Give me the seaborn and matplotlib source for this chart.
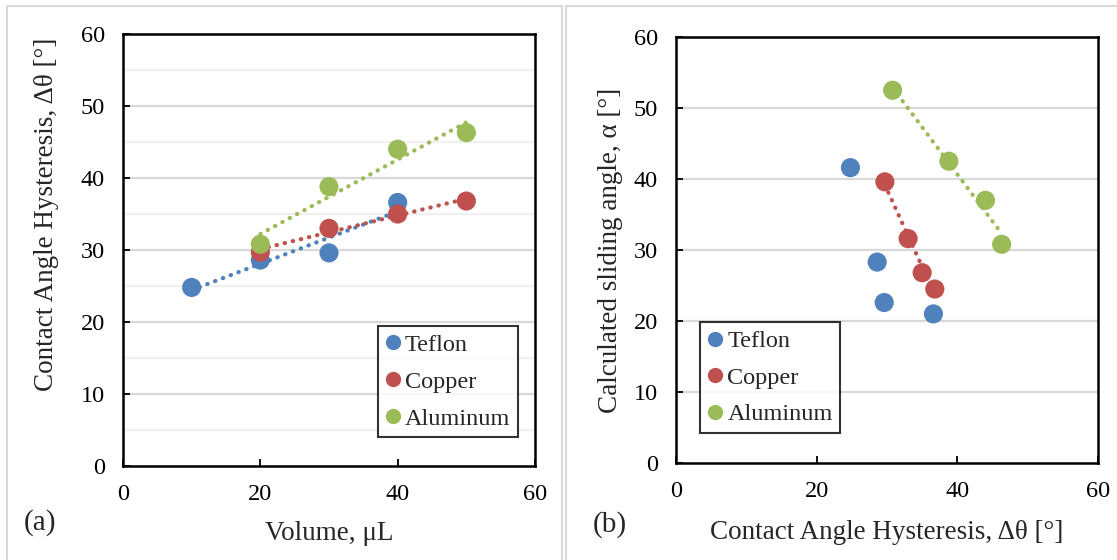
import matplotlib
matplotlib.use("Agg")
import matplotlib.pyplot as plt
from matplotlib.lines import Line2D
import seaborn as sns
import pandas as pd

# --- data ---
materials = ["Teflon", "Copper", "Aluminum"]
colors = ["#4F81BD", "#C0504D", "#9BBB59"]

# (a) hysteresis vs droplet volume
teflon_vol = [10, 20, 30, 40]
teflon_cah = [24.8, 28.6, 29.6, 36.6]
copper_vol = [20, 30, 40, 50]
copper_cah = [29.7, 33.0, 35.0, 36.8]
alu_vol = [20, 30, 40, 50]
alu_cah = [30.8, 38.8, 44.0, 46.3]

# (b) sliding angle vs hysteresis
teflon_slide = [41.6, 28.3, 22.6, 21.0]
copper_slide = [39.6, 31.6, 26.8, 24.5]
alu_slide = [52.5, 42.5, 37.0, 30.8]

df_a = pd.DataFrame({
    "volume": teflon_vol + copper_vol + alu_vol,
    "cah": teflon_cah + copper_cah + alu_cah,
    "material": ["Teflon"] * 4 + ["Copper"] * 4 + ["Aluminum"] * 4,
})
df_b = pd.DataFrame({
    "cah": teflon_cah + copper_cah + alu_cah,
    "slide": teflon_slide + copper_slide + alu_slide,
    "material": ["Teflon"] * 4 + ["Copper"] * 4 + ["Aluminum"] * 4,
})

sns.set_theme(style="white")
plt.rcParams["font.family"] = ["Liberation Serif", "DejaVu Serif"]

W, H = 1117, 560
fig = plt.figure(figsize=(W / 100, H / 100), dpi=100)
fig.patch.set_facecolor("white")


def px_axes(l, t, r, b):
    return fig.add_axes([l / W, 1 - b / H, (r - l) / W, (b - t) / H])


ax_a = px_axes(123, 34, 535, 466)
ax_b = px_axes(676, 37, 1098, 463)

palette = dict(zip(materials, colors))
dot_kws = dict(linestyle=(0, (0.1, 1.9)), linewidth=3.0, dash_capstyle="round")


def trend(ax, df, x, y, mats):
    for m in mats:
        sub = df[df["material"] == m]
        sns.regplot(data=sub, x=x, y=y, ax=ax, scatter=False, ci=None,
                    truncate=True, line_kws=dict(color=palette[m], **dot_kws))


def style(ax, xlabel, ylabel, minor_grid, ylab_xy, xlab_y):
    ax.set_xlim(0, 60)
    ax.set_ylim(0, 60)
    ax.set_xticks([0, 20, 40, 60])
    ax.set_yticks(range(0, 61, 10))
    if minor_grid:
        for v in range(5, 60, 10):
            ax.axhline(v, color="#F0F0F0", lw=1.6, zorder=0)
    for v in range(10, 60, 10):
        ax.axhline(v, color="#D9D9D9", lw=1.6, zorder=0.5)
    ax.tick_params(direction="in", length=5, width=1.3, labelsize=17.5,
                   colors="black", pad=13, bottom=True, left=True)
    for s in ax.spines.values():
        s.set_color("black")
        s.set_linewidth(1.8)
    ax.set_xlabel(xlabel, fontsize=19.5)
    ax.set_ylabel(ylabel, fontsize=19.5)
    ax.yaxis.set_label_coords(*ylab_xy)
    ax.xaxis.set_label_coords(0.5, xlab_y)
    ax.grid(False)


# ---- panel (a) ----
trend(ax_a, df_a, "volume", "cah", materials)
sns.scatterplot(data=df_a, x="volume", y="cah", hue="material", hue_order=materials,
                palette=palette, s=190, linewidth=0, ax=ax_a, zorder=3, legend=False)
style(ax_a, "Volume, \u03bcL", "Contact Angle Hysteresis, \u0394\u03b8 [\u00b0]", True,
      (-0.155, 0.583), -0.127)

# ---- panel (b) ----
trend(ax_b, df_b, "cah", "slide", ["Copper", "Aluminum"])
sns.scatterplot(data=df_b, x="cah", y="slide", hue="material", hue_order=materials,
                palette=palette, s=190, linewidth=0, ax=ax_b, zorder=3, legend=False)
style(ax_b, "Contact Angle Hysteresis, \u0394\u03b8 [\u00b0]", "Calculated sliding angle, \u03b1 [\u00b0]", False,
      (-0.125, 0.5), -0.134)

handles = [Line2D([], [], marker="o", linestyle="none", markersize=11,
                  markerfacecolor=c, markeredgewidth=0) for c in colors]
for ax, anchor, ls in [(ax_a, (0.618, 0.066), 0.62), (ax_b, (0.057, 0.07), 0.6)]:
    leg = ax.legend(handles, materials, loc="lower left", bbox_to_anchor=anchor,
                    frameon=True, fancybox=False, fontsize=17.5, handlelength=0.6,
                    handletextpad=0.2, labelspacing=ls, borderpad=0.32,
                    borderaxespad=0)
    leg.get_frame().set_edgecolor("black")
    leg.get_frame().set_linewidth(1.5)
    leg.set_zorder(5)

fig.text(40 / W, 1 - 523 / H, "(a)", fontsize=21, ha="center", va="center")
fig.text(610 / W, 1 - 525 / H, "(b)", fontsize=21, ha="center", va="center")

# light panel frames
frame = dict(color="#D9D9D9", lw=1.5, transform=fig.transFigure)
for xs, ys in [([7, 7, 562, 562], [560, 6, 6, 560]), ([566, 566, 1117], [560, 6, 6])]:
    fig.add_artist(Line2D([x / W for x in xs], [1 - y / H for y in ys], **frame))

fig.savefig("out.png", dpi=100)
